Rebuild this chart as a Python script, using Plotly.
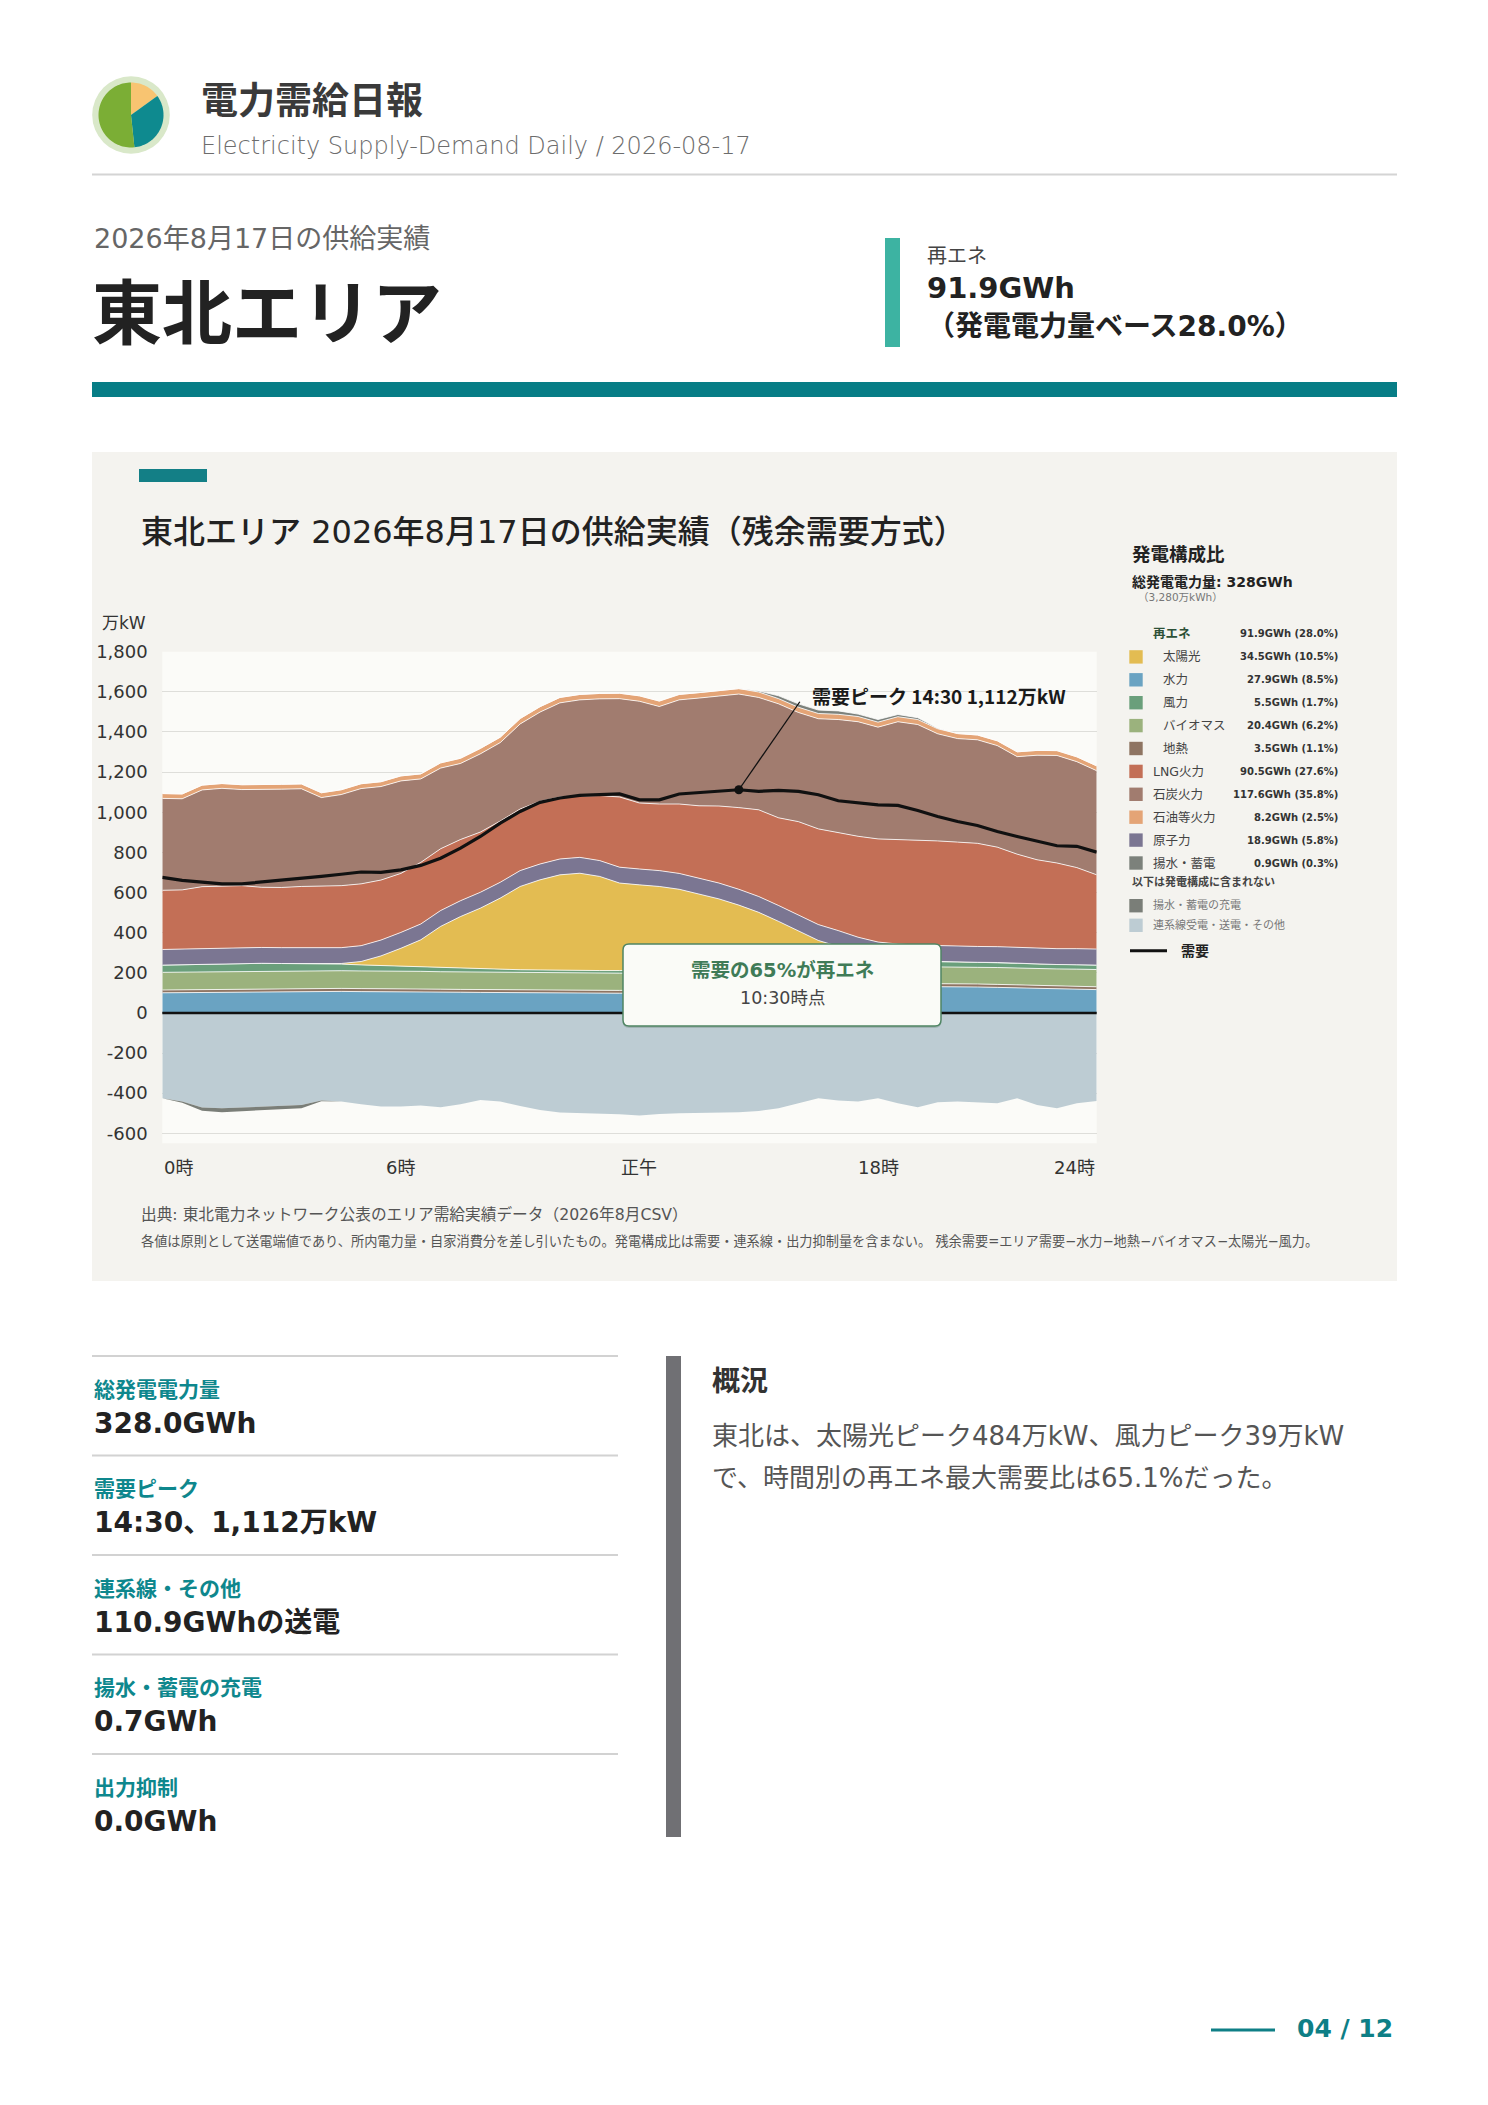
import math
import plotly.graph_objects as go

W, H = 1488, 2105

# ---------------- data (万kW, 30-minute slots) ----------------
hours = [i * 0.5 for i in range(48)]

hydro = [100, 101, 102, 104, 105, 106, 106, 107, 107, 107,
         106, 106, 105, 105, 104, 103, 102, 101, 100, 99,
         98, 98, 98, 98, 99, 100, 101, 102, 104, 106,
         108, 111, 114, 118, 122, 126, 128, 130, 131, 131,
         130, 129, 127, 125, 122, 120, 118, 116]
geothermal = [14, 14, 15, 15, 15, 15, 15, 15, 15, 15,
              15, 15, 14, 14, 14, 14, 14, 14, 14, 14,
              14, 14, 14, 14, 14, 14, 14, 14, 15, 15,
              15, 15, 15, 15, 15, 15, 15, 15, 15, 15,
              15, 15, 15, 14, 14, 14, 14, 14]
biomass = [88, 88, 88, 88, 88, 88, 88, 88, 88, 88,
           88, 88, 88, 88, 87, 87, 87, 87, 86, 86,
           86, 86, 86, 86, 85, 85, 85, 85, 85, 85,
           85, 85, 84, 84, 84, 84, 84, 84, 84, 84,
           83, 83, 84, 84, 85, 85, 86, 86]
wind = [36, 37, 38, 38, 39, 38, 37, 36, 35, 33,
        30, 27, 24, 21, 19, 18, 17, 16, 15, 15,
        14, 14, 13, 13, 13, 14, 14, 15, 16, 17,
        18, 19, 20, 21, 22, 23, 24, 25, 25, 26,
        26, 25, 25, 24, 23, 22, 22, 22]
solar = [0, 0, 0, 0, 0, 0, 0, 0, 0, 3,
         17, 48, 91, 136, 207, 258, 302, 354, 415, 449,
         476, 484, 469, 436, 427, 417, 402, 376, 348, 314,
         275, 226, 176, 123, 88, 50, 23, 10, 4, 0,
         0, 0, 0, 0, 0, 0, 0, 0]
nuclear = [78, 78, 78, 79, 79, 79, 79, 79, 79, 79,
           79, 79, 79, 79, 79, 79, 79, 79, 79, 79,
           79, 79, 79, 79, 79, 79, 79, 79, 79, 79,
           79, 79, 79, 79, 79, 79, 79, 79, 79, 79,
           79, 79, 79, 79, 79, 79, 80, 80]
lng = [295, 295, 308, 308, 308, 300, 300, 305, 308, 309,
       308, 299, 294, 307, 308, 305, 300, 305, 307, 313,
       309, 305, 324, 350, 329, 332, 346, 361, 384, 407,
       432, 437, 465, 477, 490, 503, 514, 521, 523, 522,
       518, 514, 496, 465, 440, 427, 404, 370]
coal = [458, 454, 482, 487, 479, 487, 490, 487, 441, 454,
        475, 466, 461, 416, 402, 379, 390, 391, 424, 444,
        469, 480, 482, 490, 507, 486, 519, 537, 547, 566,
        560, 568, 544, 549, 562, 571, 557, 587, 576, 534,
        516, 516, 506, 486, 521, 536, 528, 519]
oil = [24, 24, 24, 24, 24, 24, 24, 24, 24, 24, 24, 24,
       25, 25, 26, 26, 27, 27, 27, 27, 27, 27, 27, 27,
       27, 27, 27, 27, 27, 27, 27, 26, 26, 26, 26, 26,
       25, 25, 25, 25, 25, 24, 24, 24, 24, 24, 24, 24]
pump_gen = [0, 0, 0, 0, 0, 0, 0, 0, 0, 0,
            0, 0, 0, 0, 0, 0, 0, 0, 0, 0,
            0, 0, 0, 0, 0, 0, 0, 0, 0, 0,
            5, 14, 17, 17, 17, 12, 13, 11, 9, 3,
            0, 0, 0, 0, 0, 0, 0, 0]
interchange = [-426, -442, -472, -475, -472, -467, -464, -459, -437, -442,
               -455, -467, -467, -462, -470, -455, -434, -442, -464, -484,
               -497, -500, -500, -505, -512, -504, -500, -499, -497, -495,
               -489, -475, -450, -426, -437, -442, -426, -450, -470, -445,
               -442, -447, -450, -426, -459, -475, -450, -439]
pump_charge = [0, -6, -16, -20, -18, -18, -16, -16, -4, 0,
               0, 0, 0, 0, 0, 0, 0, 0, 0, 0,
               0, 0, 0, 0, 0, 0, 0, 0, 0, 0,
               0, 0, 0, 0, 0, 0, 0, 0, 0, 0,
               0, 0, 0, 0, 0, 0, 0, 0]
demand = [675, 660, 652, 643, 643, 652, 660, 668, 680, 691,
          702, 700, 713, 735, 771, 821, 879, 946, 1004, 1049,
          1071, 1084, 1087, 1091, 1062, 1062, 1091, 1099, 1104, 1112,
          1104, 1109, 1104, 1087, 1057, 1046, 1037, 1034, 1009, 979,
          954, 934, 904, 879, 855, 833, 830, 801]

y_tick_vals = [1800, 1600, 1400, 1200, 1000, 800, 600, 400, 200, 0, -200, -400, -600]
y_tick_text = ["1,800", "1,600", "1,400", "1,200", "1,000", "800", "600", "400",
               "200", "0", "-200", "-400", "-600"]
x_tick_vals = [0, 6, 12, 18, 23.5]
x_tick_text = ["0時", "6時", "正午", "18時", "24時"]

legend_labels = ["再エネ", "太陽光", "水力", "風力", "バイオマス", "地熱", "LNG火力",
                 "石炭火力", "石油等火力", "原子力", "揚水・蓄電"]
legend_values = ["91.9GWh (28.0%)", "34.5GWh (10.5%)", "27.9GWh (8.5%)", "5.5GWh (1.7%)",
                 "20.4GWh (6.2%)", "3.5GWh (1.1%)", "90.5GWh (27.6%)", "117.6GWh (35.8%)",
                 "8.2GWh (2.5%)", "18.9GWh (5.8%)", "0.9GWh (0.3%)"]

kpi_labels = ["総発電電力量", "需要ピーク", "連系線・その他", "揚水・蓄電の充電", "出力抑制"]
kpi_values = ["328.0GWh", "14:30、1,112万kW", "110.9GWhの送電", "0.7GWh", "0.0GWh"]

# ---------------- styles ----------------
C = {
    "水力": "#6AA3C2", "地熱": "#8E7462", "バイオマス": "#9BB27D", "風力": "#6A9F7B",
    "太陽光": "#E3BC52", "原子力": "#7B7692", "LNG火力": "#C36F56", "石炭火力": "#A17C6F",
    "石油等火力": "#E4A476", "揚水・蓄電": "#7C817B", "連系線": "#BDCCD3", "揚水充電": "#7A7E78",
}
FONT = "DejaVu Sans, Noto Sans CJK JP, sans-serif"
JP = "Noto Sans CJK JP, sans-serif"
TEAL = "#077D86"

ann, shapes = [], []


def T(x, y, s, size, color="#333", weight=400, xanchor="left", family=FONT):
    ann.append(dict(xref="paper", yref="paper", x=x / W, y=1 - y / H, text=s, showarrow=False,
                    xanchor=xanchor, yanchor="middle",
                    font=dict(family=family, size=size, color=color, weight=weight)))


def R(x0, y0, x1, y1, color, layer="below"):
    shapes.append(dict(type="rect", xref="paper", yref="paper", x0=x0 / W, x1=x1 / W,
                       y0=1 - y1 / H, y1=1 - y0 / H, fillcolor=color, line=dict(width=0),
                       layer=layer))


def Lp(x0, y0, x1, y1, color, width, layer="below"):
    shapes.append(dict(type="line", xref="paper", yref="paper", x0=x0 / W, x1=x1 / W,
                       y0=1 - y0 / H, y1=1 - y1 / H, line=dict(color=color, width=width),
                       layer=layer))


def P(pts):
    return "M " + " L ".join(f"{x / W:.6f},{1 - y / H:.6f}" for x, y in pts) + " Z"


def wedge(cx, cy, r, a0, a1, color):
    pts = [(cx, cy)]
    n = max(8, int((a1 - a0) / 3))
    for k in range(n + 1):
        a = math.radians(a0 + (a1 - a0) * k / n)
        pts.append((cx + r * math.sin(a), cy - r * math.cos(a)))
    shapes.append(dict(type="path", xref="paper", yref="paper", path=P(pts),
                       fillcolor=color, line=dict(width=0), layer="below"))


def rrect(x0, y0, x1, y1, r):
    def q(x, y):
        return f"{x / W:.6f},{1 - y / H:.6f}"
    return (f"M {q(x0 + r, y0)} L {q(x1 - r, y0)} Q {q(x1, y0)} {q(x1, y0 + r)} "
            f"L {q(x1, y1 - r)} Q {q(x1, y1)} {q(x1 - r, y1)} L {q(x0 + r, y1)} "
            f"Q {q(x0, y1)} {q(x0, y1 - r)} L {q(x0, y0 + r)} Q {q(x0, y0)} {q(x0 + r, y0)} Z")


# ---------------- page header ----------------
cx, cy = 131, 115
shapes.append(dict(type="circle", xref="paper", yref="paper", x0=(cx - 38.8) / W, x1=(cx + 38.8) / W,
                   y0=1 - (cy + 38.8) / H, y1=1 - (cy - 38.8) / H, fillcolor="#D9E8C9",
                   line=dict(width=0), layer="below"))
wedge(cx, cy, 32.5, 0, 54, "#F8C471")
wedge(cx, cy, 32.5, 54, 174, "#0E8A8F")
wedge(cx, cy, 32.5, 174, 360, "#7BAE35")

T(199, 98, "電力需給日報", 37, "#3A3A3A", 700, family=JP)
T(199, 146, "Electricity Supply-Demand Daily / 2026-08-17", 24, "#6C6C6C", 200)
Lp(92, 174.5, 1397, 174.5, "#D4D4D4", 2)

T(92, 238, "2026年8月17日の供給実績", 27, "#666666")
T(90, 308, "東北エリア", 70, "#222222", 700, family=JP)
R(885, 238, 900, 347, "#3DB3A2")
T(925, 254, "再エネ", 20, "#444444", family=JP)
T(925, 288, "91.9GWh", 29, "#222222", 700)
T(925, 326, "（発電電力量ベース28.0%）", 28, "#222222", 700)
R(92, 382, 1397, 397, TEAL)

# ---------------- chart panel ----------------
R(92, 452, 1397, 1281, "#F4F3EF")
R(139, 469, 207, 482, "#137F86")
T(139, 532, "東北エリア 2026年8月17日の供給実績（残余需要方式）", 32, "#222222", 500)
T(100, 623, "万kW", 17, "#333333")

PX0, PX1, PY0, PY1 = 162.3, 1096.7, 651.7, 1143.3
R(PX0, PY0, PX1, PY1, "#FBFBF8")

fig = go.Figure()
pos_stack = [("水力", hydro), ("地熱", geothermal), ("バイオマス", biomass), ("風力", wind),
             ("太陽光", solar), ("原子力", nuclear), ("LNG火力", lng), ("石炭火力", coal),
             ("石油等火力", oil), ("揚水・蓄電", pump_gen)]
for name, vals in pos_stack:
    fig.add_trace(go.Scatter(x=hours, y=vals, name=name, stackgroup="pos", mode="lines",
                             line=dict(width=1, color="rgba(255,255,255,0.8)"),
                             fillcolor=C[name], hoverinfo="skip", showlegend=False))
for name, vals, key in [("連系線", interchange, "連系線"), ("揚水充電", pump_charge, "揚水充電")]:
    fig.add_trace(go.Scatter(x=hours, y=vals, name=name, stackgroup="neg", mode="lines",
                             line=dict(width=0, color=C[key]),
                             fillcolor=C[key], hoverinfo="skip", showlegend=False))
fig.add_trace(go.Scatter(x=hours, y=demand, mode="lines", line=dict(color="#111111", width=3.2),
                         hoverinfo="skip", showlegend=False))
pk = demand.index(max(demand))
fig.add_trace(go.Scatter(x=[hours[pk]], y=[demand[pk]], mode="markers",
                         marker=dict(size=9, color="#111111"), hoverinfo="skip", showlegend=False))

# zero line
shapes.append(dict(type="line", xref="x domain", yref="y", x0=0, x1=1, y0=0, y1=0,
                   line=dict(color="#111111", width=2.5), layer="above"))
# peak leader line
shapes.append(dict(type="line", xref="x", yref="y", xsizemode="pixel", ysizemode="pixel",
                   xanchor=hours[pk], yanchor=demand[pk], x0=0, x1=61, y0=0, y1=88,
                   line=dict(color="#111111", width=1.3), layer="above"))
pk_h = int(hours[pk])
pk_m = "30" if hours[pk] % 1 else "00"
T(810, 696, f"需要ピーク {pk_h}:{pk_m} {demand[pk]:,}万kW", 19, "#1A1A1A", 700, family=JP)

# callout box
shapes.append(dict(type="path", xref="paper", yref="paper", path=rrect(623, 946, 941, 1028, 6),
                   fillcolor="rgba(60,90,70,0.22)", line=dict(width=0), layer="above"))
shapes.append(dict(type="path", xref="paper", yref="paper", path=rrect(623, 944, 941, 1026, 6),
                   fillcolor="#FAFBF7", line=dict(color="#4F8563", width=1.5), layer="above"))
T(782, 970, "需要の65%が再エネ", 19.5, "#3F7B57", 700, xanchor="center")
T(782, 998, "10:30時点", 17.5, "#444444", xanchor="center")

# x tick labels
for v, s in zip(x_tick_vals, x_tick_text):
    xa = "left" if v == x_tick_vals[0] else ("right" if v == x_tick_vals[-1] else "center")
    ann.append(dict(xref="x", yref="paper", x=v, y=1 - 1167 / H, text=s, showarrow=False,
                    xanchor=xa, yanchor="middle", font=dict(family=FONT, size=18, color="#333333")))

T(139, 1214, "出典: 東北電力ネットワーク公表のエリア需給実績データ（2026年8月CSV）", 15.7, "#555555")
T(139, 1241, "各値は原則として送電端値であり、所内電力量・自家消費分を差し引いたもの。"
             "発電構成比は需要・連系線・出力抑制量を含まない。 残余需要=エリア需要−水力−地熱−"
             "バイオマス−太陽光−風力。", 13.2, "#555555")

# ---------------- legend ----------------
T(1130, 554, "発電構成比", 18.5, "#222222", 700)
T(1130, 582, "総発電電力量: 328GWh", 14, "#222222", 700)
T(1136, 597, "（3,280万kWh）", 10.5, "#777777")
sub_items = {"太陽光", "水力", "風力", "バイオマス", "地熱"}
for k, (lab, val) in enumerate(zip(legend_labels, legend_values)):
    yy = 634 + 22.9 * k
    if k == 0:
        T(1150.7, yy, lab, 12.5, "#2C5037", 700)
    else:
        R(1129.3, yy - 6.7, 1142.7, yy + 6.7, C[lab])
        T(1160.7 if lab in sub_items else 1150.7, yy, lab, 12.5, "#444444")
    T(1340, yy, val, 10, "#333333", 700, xanchor="right")
T(1130, 881.7, "以下は発電構成に含まれない", 11, "#444444", 700)
R(1129.3, 899, 1142.7, 912.4, C["揚水充電"])
T(1150.7, 905.7, "揚水・蓄電の充電", 11, "#777777")
R(1129.3, 918.6, 1142.7, 932, C["連系線"])
T(1150.7, 925.3, "連系線受電・送電・その他", 11, "#777777")
Lp(1130, 950.7, 1167, 950.7, "#111111", 3)
T(1179, 950.7, "需要", 14, "#222222", 700)

# ---------------- KPI section ----------------
for k, (lab, val) in enumerate(zip(kpi_labels, kpi_values)):
    y0 = 1356 + 99.5 * k
    Lp(92, y0, 618, y0, "#D2D2D2", 2)
    T(92, y0 + 31.5, lab, 21, "#0E878D", 700, family=JP)
    T(92, y0 + 67, val, 28, "#222222", 700)

R(666, 1356, 681, 1837, "#707074")
T(710, 1379, "概況", 28, "#333333", 700, family=JP)
T(710, 1436, "東北は、太陽光ピーク484万kW、風力ピーク39万kW", 26, "#555555")
T(710, 1478, "で、時間別の再エネ最大需要比は65.1%だった。", 26, "#555555")

# footer
Lp(1211, 2030, 1275, 2030, "#0E7F86", 3)
T(1395, 2028, "04 / 12", 25, "#0E7F86", 700, xanchor="right")

fig.update_layout(
    width=W, height=H, autosize=False,
    margin=dict(l=0, r=0, t=0, b=0, pad=0, autoexpand=False),
    paper_bgcolor="#FFFFFF", plot_bgcolor="rgba(0,0,0,0)",
    showlegend=False, hovermode=False,
    xaxis=dict(domain=[PX0 / W, PX1 / W], range=[0, 23.5], showgrid=False, zeroline=False,
               showticklabels=False, ticks="", showline=False, fixedrange=True, automargin=False),
    yaxis=dict(domain=[1 - PY1 / H, 1 - PY0 / H], range=[-650, 1800], tickvals=y_tick_vals,
               ticktext=y_tick_text, showgrid=True, gridcolor="#DEDEDA", gridwidth=1,
               zeroline=False, showline=False, ticks="outside", ticklen=10,
               tickcolor="rgba(0,0,0,0)", tickfont=dict(family=FONT, size=18, color="#333333"),
               fixedrange=True, automargin=False),
    shapes=shapes, annotations=ann,
)

fig.write_html("out.html", config={"displayModeBar": False},
               post_script="document.documentElement.style.margin='0';"
                           "document.body.style.margin='0';document.body.style.padding='0';"
                           "document.body.style.overflow='hidden';window.scrollTo(0,0);")
